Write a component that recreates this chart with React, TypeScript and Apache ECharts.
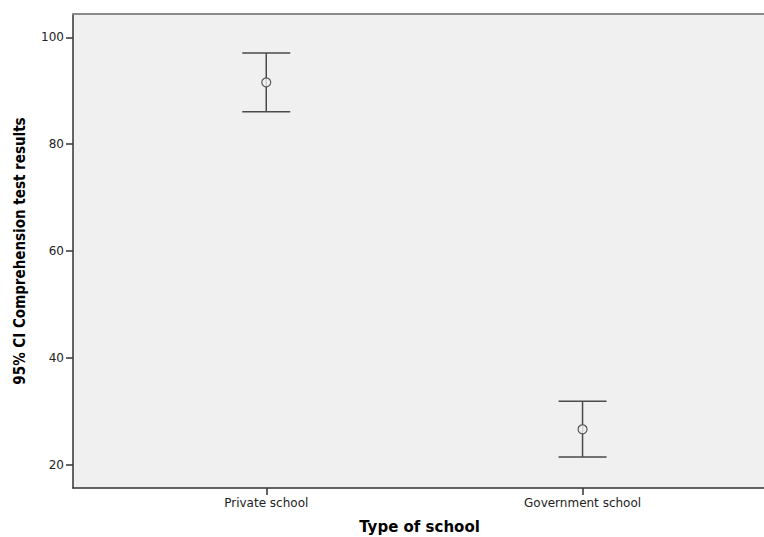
import React, { useEffect, useRef } from "react";
import * as echarts from "echarts";

const categories = ["Private school", "Government school"];
const categoryPos = [0, 1];
const means = [91.6, 26.6];
const lowerCI = [86.1, 21.4];
const upperCI = [97.1, 31.85];
const yTicks = [20, 40, 60, 80, 100];

export default function App() {
  const ref = useRef<HTMLDivElement>(null);
  useEffect(() => {
    if (!ref.current) return;
    const chart = echarts.init(ref.current, undefined, { renderer: "svg" });
    const lineColor = "#4a4a4a";
    const option: any = {
      animation: false,
      backgroundColor: "#ffffff",
      grid: {
        left: 73,
        right: -2,
        top: 14,
        bottom: 49,
        outerBoundsMode: "none",
        containLabel: false,
        show: true,
        backgroundColor: "#f0f0f0",
        borderWidth: 0,
      },
      xAxis: [
        {
          type: "value",
          min: -0.611,
          max: 1.58,
          position: "bottom",
          name: "Type of school",
          nameLocation: "middle",
          nameGap: 31,
          nameTextStyle: {
            fontFamily: "DejaVu Sans",
            fontWeight: "bold",
            fontSize: 15,
            color: "#000",
          },
          splitLine: { show: false },
          axisLine: { show: true, onZero: false, lineStyle: { color: "#333", width: 1.5 } },
          axisTick: {
            show: true,
            customValues: categoryPos,
            length: 7,
            lineStyle: { color: "#333", width: 1.5 },
          },
          axisLabel: {
            show: true,
            customValues: categoryPos,
            margin: 9,
            fontFamily: "DejaVu Sans",
            fontSize: 12,
            color: "#222",
            formatter: (v: number) => categories[Math.round(v)] ?? "",
          },
        },
        {
          type: "value",
          min: -0.611,
          max: 1.58,
          position: "top",
          splitLine: { show: false },
          axisLine: { show: true, onZero: false, lineStyle: { color: "#8a8a8a", width: 2 } },
          axisTick: { show: false },
          axisLabel: { show: false },
        },
      ],
      yAxis: {
        type: "value",
        min: 15.6,
        max: 104.4,
        position: "left",
        name: "95% CI Comprehension test results",
        nameLocation: "middle",
        nameRotate: 90,
        nameGap: 46,
        nameTextStyle: {
          fontFamily: "DejaVu Sans Condensed, Liberation Sans",
          fontWeight: "bold",
          fontSize: 15,
          color: "#000",
        },
        splitLine: { show: false },
        axisLine: { show: true, onZero: false, lineStyle: { color: "#333", width: 1.5 } },
        axisTick: {
          show: true,
          customValues: yTicks,
          length: 7,
          lineStyle: { color: "#333", width: 1.5 },
        },
        axisLabel: {
          show: true,
          customValues: yTicks,
          margin: 9,
          fontFamily: "DejaVu Sans",
          fontSize: 12,
          color: "#222",
        },
      },
      series: [
        {
          type: "custom",
          xAxisIndex: 0,
          data: categoryPos.map((p, i) => [p, lowerCI[i], upperCI[i]]),
          renderItem: (params: any, api: any) => {
            const x = api.value(0);
            const lo = api.coord([x, api.value(1)]);
            const hi = api.coord([x, api.value(2)]);
            const hw = 24;
            const style = { stroke: lineColor, lineWidth: 1.5 };
            return {
              type: "group",
              children: [
                { type: "line", shape: { x1: lo[0], y1: lo[1], x2: hi[0], y2: hi[1] }, style },
                { type: "line", shape: { x1: hi[0] - hw, y1: hi[1], x2: hi[0] + hw, y2: hi[1] }, style },
                { type: "line", shape: { x1: lo[0] - hw, y1: lo[1], x2: lo[0] + hw, y2: lo[1] }, style },
              ],
            };
          },
          z: 2,
        },
        {
          type: "scatter",
          xAxisIndex: 0,
          data: categoryPos.map((p, i) => [p, means[i]]),
          symbol: "circle",
          symbolSize: 9,
          itemStyle: { color: "#f0f0f0", borderColor: "#333", borderWidth: 1.2 },
          z: 3,
        },
      ],
    };
    chart.setOption(option);
    return () => chart.dispose();
  }, []);
  return (
    <div
      ref={ref}
      style={{ position: "fixed", left: 0, top: 0, width: 764, height: 537 }}
    />
  );
}
